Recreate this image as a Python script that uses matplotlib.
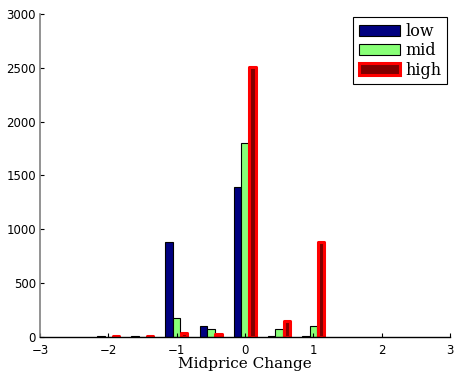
import matplotlib
matplotlib.use("Agg")
import matplotlib.pyplot as plt
import numpy as np

centers = [-2.0, -1.5, -1.0, -0.5, 0.0, 0.5, 1.0]
low = [5, 5, 885, 100, 1395, 5, 5]
mid = [2, 2, 180, 75, 1805, 75, 100]
high = [10, 10, 35, 25, 2510, 150, 880]
xticks = [-3, -2, -1, 0, 1, 2, 3]
yticks = [0, 500, 1000, 1500, 2000, 2500, 3000]

fig = plt.figure(figsize=(4.55, 3.77), dpi=100)
ax = fig.add_axes([0.088, 0.106, 0.901, 0.857])

w = 0.11
x = np.array(centers)
ax.bar(x - w, low, width=w, color='#000080', edgecolor='black', linewidth=0.8, label='low')
ax.bar(x, mid, width=w, color='#88ff77', edgecolor='black', linewidth=0.8, label='mid')
hb = ax.bar(x + w, high, width=w * 0.85, color='#800000', edgecolor='red', linewidth=2.2, label='high')
for p in hb:
    p.set_joinstyle('round')

ax.set_xlim(-3, 3)
ax.set_ylim(0, 3000)
ax.set_xticks(xticks)
ax.set_xticklabels([str(t).replace('-', '\u2212') for t in xticks])
ax.set_yticks(yticks)
ax.tick_params(direction='in', length=3, labelsize=8.5, pad=3)
ax.tick_params(axis='x', pad=5)
for s in ['top', 'right']:
    ax.spines[s].set_visible(False)
ax.spines['left'].set_color('#808080')
ax.spines['left'].set_linewidth(1.2)
ax.spines['bottom'].set_linewidth(1.0)
ax.set_xlabel('Midprice Change', family='DejaVu Serif', fontsize=11, labelpad=0)

leg = ax.legend(loc='upper right', prop={'family': 'DejaVu Serif', 'size': 11.5},
                fancybox=False, edgecolor='black', framealpha=1,
                handlelength=2.6, handletextpad=0.3, borderpad=0.35, labelspacing=0.15,
                borderaxespad=0.2)
leg.get_frame().set_linewidth(0.8)

fig.savefig('out.png', dpi=100)
